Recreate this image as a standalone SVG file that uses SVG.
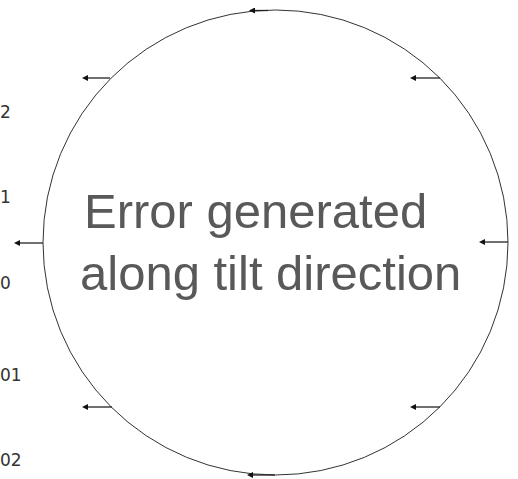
<svg xmlns="http://www.w3.org/2000/svg" width="518" height="479" viewBox="0 0 518 479">
<style>
.lbl{font-family:"DejaVu Sans",sans-serif;font-size:17px;fill:#333}
.main{font-family:"Liberation Sans",Arial,sans-serif;font-size:49px;fill:#595959}
.arr{stroke:#222;stroke-width:1.3;fill:none;marker-end:url(#ah)}
</style>
<defs>
<marker id="ah" markerWidth="6" markerHeight="6" refX="1" refY="3" orient="auto" markerUnits="userSpaceOnUse">
<path d="M6,0 L0,3 L6,6 Z" fill="#111" transform="rotate(180 3 3)"/>
</marker>
</defs>
<rect width="518" height="479" fill="#fff"/>
<g id="axis-labels">
<text class="lbl" x="0" y="118">2</text>
<text class="lbl" x="0" y="203">1</text>
<text class="lbl" x="0" y="289">0</text>
<text class="lbl" x="0" y="381">01</text>
<text class="lbl" x="0" y="466">02</text>
</g>
<g id="circle">
<circle cx="275.5" cy="242.5" r="232.5" fill="none" stroke="#333" stroke-width="1"/>
</g>
<g id="connectors">
<line class="arr" x1="268" y1="10.5" x2="254" y2="10.5"/>
<line class="arr" x1="110" y1="78" x2="87" y2="78"/>
<line class="arr" x1="440" y1="78" x2="415" y2="78"/>
<line class="arr" x1="43" y1="243" x2="19" y2="243"/>
<line class="arr" x1="508" y1="242" x2="484" y2="242"/>
<line class="arr" x1="112" y1="407" x2="87" y2="407"/>
<line class="arr" x1="440" y1="407" x2="415" y2="407"/>
<line class="arr" x1="275" y1="475" x2="252" y2="475"/>
</g>
<g id="label">
<text class="main" x="84" y="228">Error generated</text>
<text class="main" x="80" y="290">along tilt direction</text>
</g>
</svg>
